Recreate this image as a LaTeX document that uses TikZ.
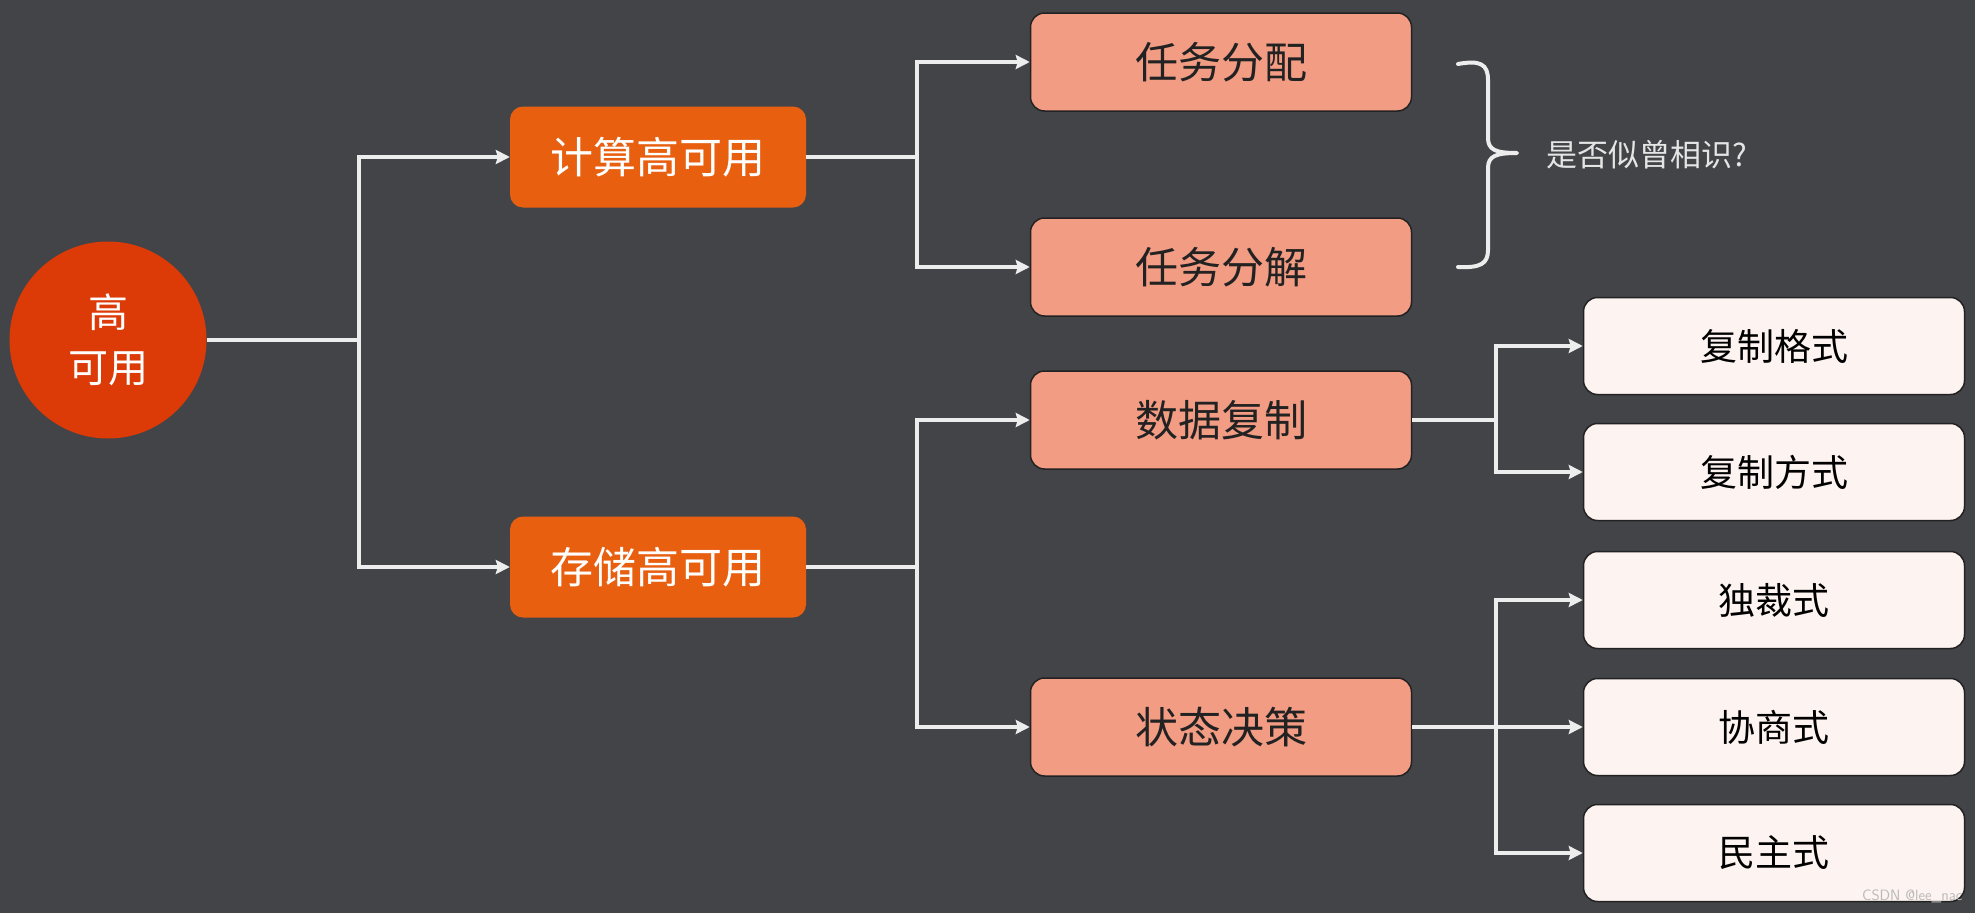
\documentclass[tikz,border=0pt]{standalone}
\usepackage{fontspec}
\newfontfamily\cjk{Noto Sans CJK SC}
\usepackage{xcolor}
\usepackage{tikz}
\usetikzlibrary{arrows.meta,positioning,calc}

\definecolor{bgcol}{HTML}{434448}
\definecolor{rootcol}{HTML}{DC3A06}
\definecolor{lvonecol}{HTML}{E85F10}
\definecolor{lvtwocol}{HTML}{F29C84}
\definecolor{lvthreecol}{HTML}{FDF3F0}
\definecolor{inkcol}{HTML}{222222}

\begin{document}
\begin{tikzpicture}[x=1pt,y=-1pt,
  root/.style={circle,fill=rootcol,minimum size=197pt,inner sep=0pt,text=white,
    align=center,font=\cjk\fontsize{40}{55}\selectfont},
  lvone/.style={rounded corners=13pt,fill=lvonecol,minimum width=296pt,minimum height=101pt,
    inner sep=0pt,text=white,font=\cjk\fontsize{43}{50}\selectfont},
  lvtwo/.style={rounded corners=14pt,draw=inkcol,line width=1.5pt,fill=lvtwocol,minimum width=381pt,
    minimum height=98pt,inner sep=0pt,text=inkcol,font=\cjk\fontsize{43}{50}\selectfont},
  lvthree/.style={rounded corners=14pt,draw=inkcol,line width=1.5pt,fill=lvthreecol,minimum width=381pt,
    minimum height=97pt,inner sep=0pt,text=black,font=\cjk\fontsize{37}{44}\selectfont},
  link/.style={draw=white!93!black,line width=4pt},
  tip/.style={link,-{Stealth[length=14pt,width=14pt,inset=2pt]}}]
  \fill[bgcol] (0,0) rectangle (1975,913);
  \useasboundingbox (0,0) rectangle (1975,913);

  \node[root] (ha) at (108,340) {高\\可用};
  \node[lvone] (calc) at (658,157) {计算高可用};
  \node[lvone] (store) at (658,567) {存储高可用};

  \node[lvtwo] (assign) at (1221,62) {任务分配};
  \node[lvtwo] (split) at (1221,267) {任务分解};
  \node[lvtwo] (repl) at (1221,420) {数据复制};
  \node[lvtwo] (decide) at (1221,727) {状态决策};

  \node[lvthree] (fmt) at (1774,346) {复制格式};
  \node[lvthree] (mode) at (1774,472) {复制方式};
  \node[lvthree] (dict) at (1774,600) {独裁式};
  \node[lvthree] (nego) at (1774,727) {协商式};
  \node[lvthree] (demo) at (1774,853) {民主式};

  \coordinate (j0) at (359,340);
  \coordinate (j1) at (917,157);
  \coordinate (j2) at (917,567);
  \coordinate (j3) at (1496,420);
  \coordinate (j4) at (1496,727);

  \draw[link] (ha.east) -- (j0);
  \draw[tip] (j0) |- (calc.west);
  \draw[tip] (j0) |- (store.west);

  \draw[link] (calc.east) -- (j1);
  \draw[tip] (j1) |- (assign.west);
  \draw[tip] (j1) |- (split.west);

  \draw[link] (store.east) -- (j2);
  \draw[tip] (j2) |- (repl.west);
  \draw[tip] (j2) |- (decide.west);

  \draw[link] (repl.east) -- (j3);
  \draw[tip] (j3) |- (fmt.west);
  \draw[tip] (j3) |- (mode.west);

  \draw[link] (decide.east) -- (j4);
  \draw[tip] (j4) |- (dict.west);
  \draw[tip] (j4) -- (nego.west);
  \draw[tip] (j4) |- (demo.west);

  % brace
  \draw[link,line cap=round,line join=round] (1458,64) .. controls (1480,60) and (1488,64) .. (1488,80)
    -- (1488,138) .. controls (1488,150) and (1496,153) .. (1517,153)
    .. controls (1496,153) and (1488,156) .. (1488,168) -- (1488,250)
    .. controls (1488,264) and (1480,268) .. (1458,267);
  \node[text=white!90!black,font=\cjk\fontsize{31}{36}\selectfont,anchor=west] (hint) at (1543,155) {是否似曾相识?};

  \node[text=gray!55!white,font=\sffamily\fontsize{15}{17}\selectfont,anchor=south east] (mark) at (1966,906) {CSDN @lee\_nac};
\end{tikzpicture}
\end{document}
